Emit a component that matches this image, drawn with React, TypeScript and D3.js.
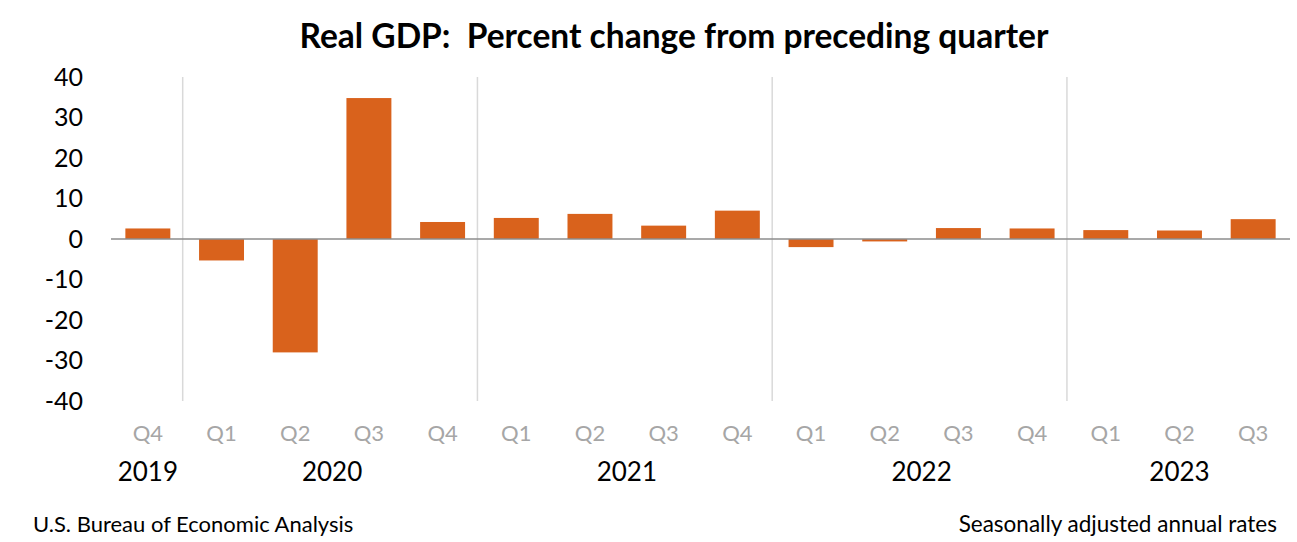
import * as d3 from "d3";

const quarters = ["Q4", "Q1", "Q2", "Q3", "Q4", "Q1", "Q2", "Q3", "Q4", "Q1", "Q2", "Q3", "Q4", "Q1", "Q2", "Q3"];
const years = ["2019", "2020", "2020", "2020", "2020", "2021", "2021", "2021", "2021", "2022", "2022", "2022", "2022", "2023", "2023", "2023"];
const gdpChange = [2.6, -5.3, -28.0, 34.8, 4.2, 5.2, 6.2, 3.3, 7.0, -2.0, -0.6, 2.7, 2.6, 2.2, 2.1, 4.9];
const yTicks = [40, 30, 20, 10, 0, -10, -20, -30, -40];

const FONT = "Lato, 'Open Sans', sans-serif";

export default function App() {
  const width = 1297;
  const height = 542;
  const plot = { left: 111, right: 1290, top: 77, bottom: 401 };

  const keys = gdpChange.map((_, i) => i.toString());
  const x = d3.scaleBand().domain(keys).range([plot.left, plot.right]).paddingInner(0.39).paddingOuter(0.195);
  const y = d3.scaleLinear().domain([-40, 40]).range([plot.bottom, plot.top]);
  const step = x.step();

  // group consecutive quarters by year
  const groups: { year: string; first: number; last: number }[] = [];
  years.forEach((yr, i) => {
    const g = groups[groups.length - 1];
    if (g && g.year === yr) g.last = i;
    else groups.push({ year: yr, first: i, last: i });
  });

  const center = (i: number) => (x(i.toString()) ?? 0) + x.bandwidth() / 2;

  return (
    <svg width={width} height={height} style={{ position: "absolute", left: 0, top: 0, background: "#fff" }}>
      <text
        x={674}
        y={48}
        textAnchor="middle"
        fontFamily={FONT}
        fontWeight={700}
        fontSize={33.5}
        fill="#000"
        style={{ whiteSpace: "pre" }}
      >
        {"Real GDP:  Percent change from preceding quarter"}
      </text>

      {/* year separators */}
      {groups.slice(1).map((g) => {
        const sx = plot.left + step * g.first - 2;
        return <line key={`sep-${g.year}`} x1={sx} x2={sx} y1={plot.top} y2={plot.bottom} stroke="#d9d9d9" strokeWidth={1.5} />;
      })}

      {gdpChange.map((v, i) => (
        <rect
          key={`bar-${i}`}
          x={x(i.toString())}
          y={y(Math.max(0, v))}
          width={x.bandwidth()}
          height={Math.abs(y(v) - y(0))}
          fill="#d9621c"
        />
      ))}

      <line x1={plot.left} x2={plot.right} y1={y(0)} y2={y(0)} stroke="#8c8c8c" strokeWidth={1.5} />

      {yTicks.map((t) => (
        <text key={`yt-${t}`} x={83} y={y(t)} dy="0.35em" textAnchor="end" fontFamily={FONT} fontSize={25} fill="#000">
          {t}
        </text>
      ))}

      {quarters.map((q, i) => (
        <text key={`q-${i}`} x={center(i)} y={441} textAnchor="middle" fontFamily={FONT} fontSize={22} fill="#a6a6a6">
          {q}
        </text>
      ))}

      {groups.map((g) => (
        <text
          key={`yr-${g.year}`}
          x={(center(g.first) + center(g.last)) / 2}
          y={481}
          textAnchor="middle"
          fontFamily={FONT}
          fontSize={26}
          fill="#000"
        >
          {g.year}
        </text>
      ))}

      <text x={33} y={532} fontFamily={FONT} fontSize={22} fill="#000">
        U.S. Bureau of Economic Analysis
      </text>
      <text x={1277} y={532} textAnchor="end" fontFamily={FONT} fontSize={22.5} fill="#000">
        Seasonally adjusted annual rates
      </text>
    </svg>
  );
}
